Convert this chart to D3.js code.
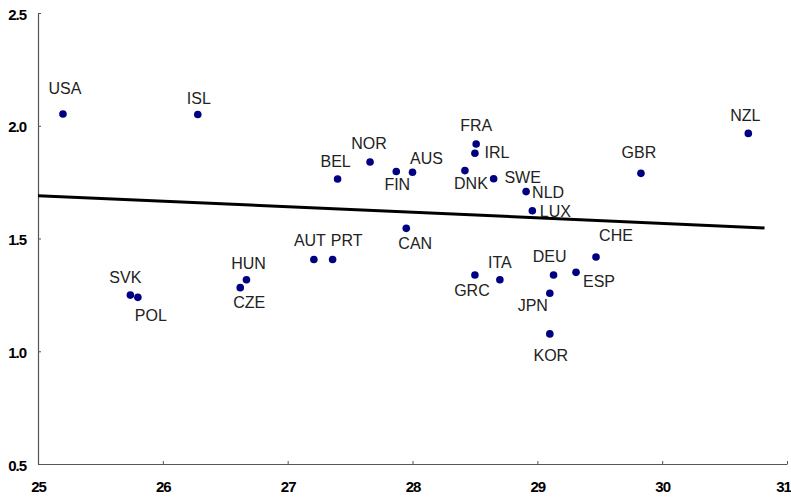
<!DOCTYPE html>
<html>
<head>
<meta charset="utf-8">
<script src="https://cdn.jsdelivr.net/npm/d3@7"></script>
<style>
  html, body { margin: 0; padding: 0; background: #fff; }
  svg { display: block; }
</style>
</head>
<body>
<svg id="chart" width="791" height="497"></svg>
<script>
// ---- data ----
const countries = ["USA","ISL","BEL","NOR","FIN","AUS","DNK","FRA","IRL","SWE","NLD","LUX","CAN","GBR","NZL","CHE","ITA","GRC","DEU","ESP","JPN","KOR","SVK","POL","HUN","CZE","AUT","PRT"];
const xValues = [25.20,26.28,27.40,27.66,27.87,28.00,28.42,28.51,28.50,28.65,28.91,28.96,27.95,29.83,30.69,29.47,28.70,28.50,29.13,29.31,29.10,29.10,25.74,25.80,26.67,26.62,27.21,27.36];
const yValues = [2.052,2.050,1.764,1.839,1.797,1.794,1.801,1.919,1.878,1.765,1.708,1.623,1.545,1.789,1.966,1.418,1.317,1.338,1.338,1.350,1.257,1.077,1.249,1.239,1.317,1.282,1.407,1.407];
// label offsets relative to the dot (dx, dy in px) — layout only
const labelDx = [2,1,-2,-1,1,14,6,0,22,29,22,23,9,-2,-3,20,0,-3,-4,23,-17,1,-5,13,2,9,-4,14];
const labelDy = [-20,-10,-12,-13,18,-8,18,-13,5,4,6,6,21,-15,-12,-16,-12,21,-13,15,18,27,-12,24,-11,20,-13,-13];
const trendX = [25, 30.82];
const trendY = [1.690, 1.547];
const xTicks = [25,26,27,28,29,30,31];
const xTickLabels = ["25","26","27","28","29","30","31"];
const yTicks = [0.5,1.0,1.5,2.0,2.5];
const yTickLabels = ["0.5","1.0","1.5","2.0","2.5"];

// ---- layout ----
const svg = d3.select("#chart");
const x = d3.scaleLinear().domain([25,31]).range([38,787]);
const y = d3.scaleLinear().domain([0.5,2.5]).range([464,13]);

const axisColor = "#555";
const tickFont = "'Liberation Sans Narrow','Arial Narrow','Liberation Sans',Arial,sans-serif";

// x axis
const xAxis = svg.append("g").attr("transform", `translate(0,${y(0.5)})`)
  .call(d3.axisBottom(x).tickValues(xTicks).tickSize(-3).tickSizeOuter(0).tickFormat((d,i)=>xTickLabels[i]));
xAxis.select(".domain").attr("stroke", axisColor).attr("stroke-width", 1.2);
xAxis.selectAll(".tick line").attr("stroke", axisColor);
xAxis.selectAll(".tick text")
  .attr("y", 28).attr("dy", "0")
  .attr("x", (d,i)=> i === xTicks.length-1 ? -4 : 0)
  .attr("font-family", tickFont).attr("font-weight", "bold").attr("font-size", 15)
  .attr("letter-spacing", -1)
  .attr("fill", "#000");

// y axis
const yAxis = svg.append("g").attr("transform", `translate(${x(25)},0)`)
  .call(d3.axisLeft(y).tickValues(yTicks).tickSize(-3).tickSizeOuter(0).tickFormat((d,i)=>yTickLabels[i]));
yAxis.select(".domain").attr("stroke", axisColor).attr("stroke-width", 1.2);
yAxis.selectAll(".tick line").attr("stroke", axisColor);
yAxis.selectAll(".tick text")
  .attr("x", -12).attr("dy", "0.4em")
  .attr("font-family", tickFont).attr("font-weight", "bold").attr("font-size", 15)
  .attr("letter-spacing", -1)
  .attr("fill", "#000");

// trend line
svg.append("line")
  .attr("x1", x(trendX[0])).attr("y1", y(trendY[0]))
  .attr("x2", x(trendX[1])).attr("y2", y(trendY[1]))
  .attr("stroke", "#000").attr("stroke-width", 3);

// points
const pts = countries.map((c,i)=>({c, x:xValues[i], y:yValues[i], dx:labelDx[i], dy:labelDy[i]}));
svg.append("g").selectAll("circle").data(pts).join("circle")
  .attr("cx", d=>x(d.x)).attr("cy", d=>y(d.y)).attr("r", 3.8)
  .attr("fill", "#000080");

svg.append("g").selectAll("text").data(pts).join("text")
  .attr("x", d=>x(d.x)+d.dx).attr("y", d=>y(d.y)+d.dy)
  .attr("text-anchor", "middle")
  .attr("font-family", "'Liberation Sans',Arial,sans-serif")
  .attr("font-size", 16)
  .attr("fill", "#222")
  .text(d=>d.c);
</script>
</body>
</html>
